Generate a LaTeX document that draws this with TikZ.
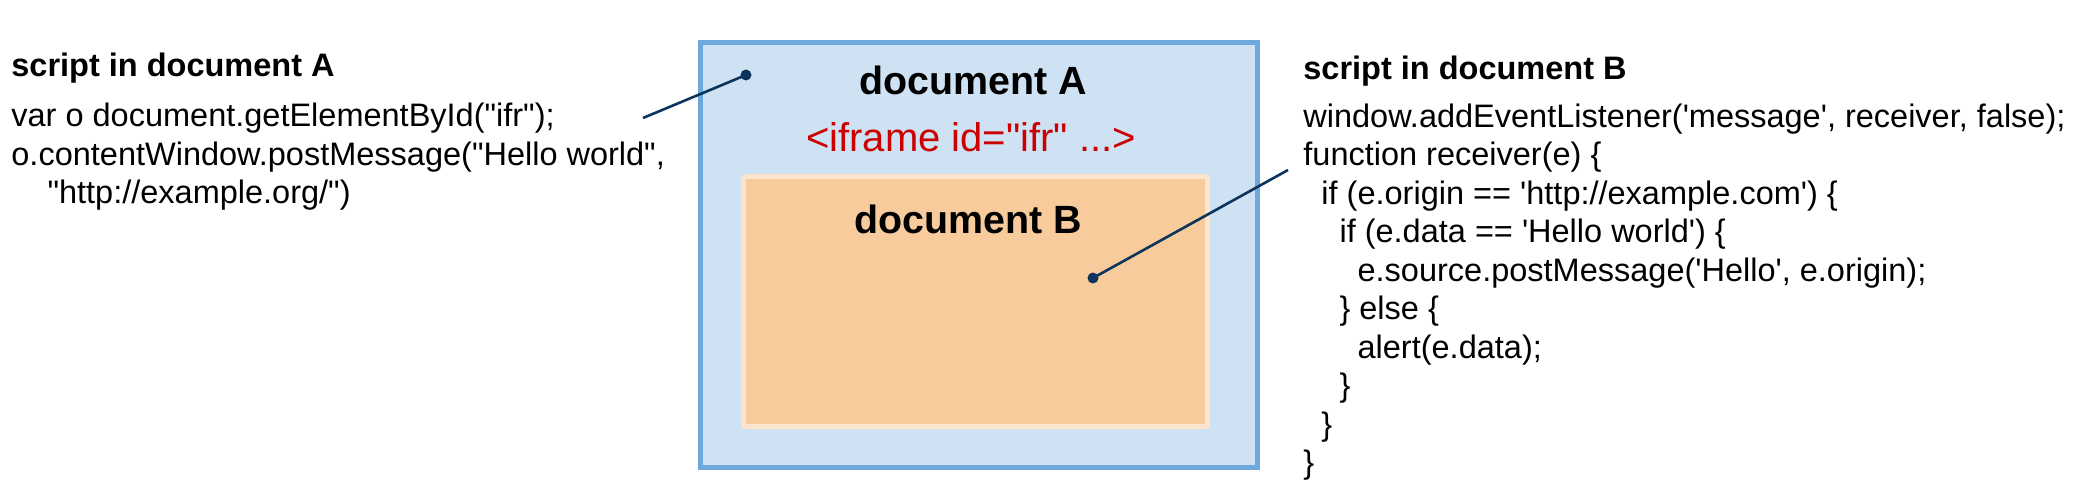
\documentclass[tikz,border=0pt]{standalone}
\usepackage{fontspec}
\setmainfont{Liberation Sans}[Ligatures=TeXOff]
\usepackage{tikz}
\usetikzlibrary{positioning}

\definecolor{boxblue}{RGB}{207,226,243}
\definecolor{edgeblue}{RGB}{111,168,220}
\definecolor{boxpeach}{RGB}{248,203,156}
\definecolor{edgepeach}{RGB}{252,229,205}
\definecolor{tagred}{RGB}{204,0,0}
\definecolor{pinblue}{RGB}{12,52,92}

\newcommand{\ind}[1]{\hspace*{#1em}}

\tikzset{
	codetext/.style={anchor=base west, inner sep=0pt, align=left, font=\fontsize{16.25}{19.25}\selectfont},
	headtext/.style={anchor=base west, inner sep=0pt, font=\fontsize{16.25}{19.25}\selectfont\bfseries},
	doctitle/.style={anchor=base, inner sep=0pt, font=\fontsize{19.7}{24}\selectfont\bfseries},
	pin/.style={circle, fill=pinblue, inner sep=0pt, minimum size=5.5pt},
	pinline/.style={draw=pinblue, line width=1.3pt},
}

\begin{document}
\begin{tikzpicture}[x=0.5pt,y=-0.5pt]
	\useasboundingbox (0,0) rectangle (2095,486);
	
	\node[draw=edgeblue, fill=boxblue, line width=2.5pt, minimum width=278.5pt, minimum height=212.5pt] (docA) at (979,255) {};
	\node[draw=edgepeach, fill=boxpeach, line width=2.5pt, rounded corners=1pt, minimum width=232pt, minimum height=125pt] (docB) at (975.5,301.5) {};
	
	\node[doctitle] (titleA) at (973,95) {document A};
	\node[doctitle, text=tagred, font=\fontsize{20}{24}\selectfont] (iframe) at (971,152) {<iframe id="ifr" ...>};
	\node[doctitle] (titleB) at (968,234) {document B};
	
	% multi-line nodes: base is the baseline of the last line
	\node[headtext] (headA) at (11,77) {script in document A};
	\node[codetext] (codeA) at (11,204) {var o document.getElementById("ifr");\\
		o.contentWindow.postMessage("Hello world",\\
		\ind{1.112}"http://example.org/")};
	
	\node[headtext] (headB) at (1303,80) {script in document B};
	\node[codetext] (codeB) at (1303,473.5) {window.addEventListener('message', receiver, false);\\
		function receiver(e) \{\\
		\ind{0.556}if (e.origin == 'http://example.com') \{\\
		\ind{1.112}if (e.data == 'Hello world') \{\\
		\ind{1.668}e.source.postMessage('Hello', e.origin);\\
		\ind{1.112}\} else \{\\
		\ind{1.668}alert(e.data);\\
		\ind{1.112}\}\\
		\ind{0.556}\}\\
		\}};
	
	\node[pin] (pinA) at (746,75) {};
	\node[pin] (pinB) at (1093,278) {};
	\coordinate (endA) at (643,118);
	\coordinate (endB) at (1288,170);
	\draw[pinline] (endA) -- (pinA.center);
	\draw[pinline] (pinB.center) -- (endB);
	
\end{tikzpicture}
\end{document}
